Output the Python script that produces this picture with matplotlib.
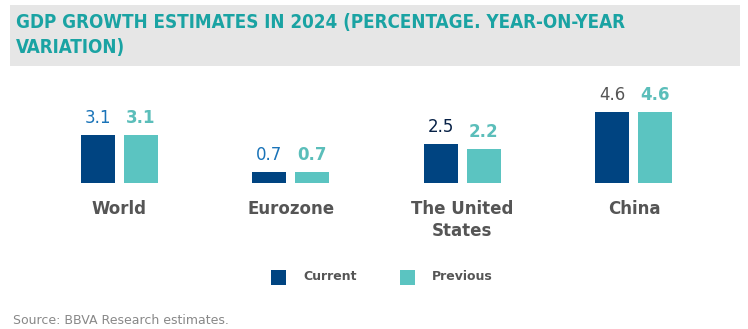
import matplotlib
matplotlib.use('Agg')
import matplotlib.pyplot as plt
from matplotlib.patches import Rectangle
import numpy as np

# data
regions = ['World', 'Eurozone', 'The United\nStates', 'China']
current = [3.1, 0.7, 2.5, 4.6]
previous = [3.1, 0.7, 2.2, 4.6]
current_label_colors = ['#1973b8', '#1973b8', '#072146', '#555555']
previous_label_colors = ['#5bbeba', '#5bbeba', '#5bbeba', '#5bbeba']

NAVY = '#004481'
TEAL = '#5bc4c1'
GREY = '#555555'
W, H = 748, 329

fig = plt.figure(figsize=(W / 100, H / 100), dpi=100)


def fx(x):
    return x / W


def fy(y):
    return 1 - y / H


# title box
fig.add_artist(Rectangle((fx(10), fy(66)), fx(730), 61 / H, transform=fig.transFigure,
                         facecolor='#e6e6e6', edgecolor='none', zorder=0))
fig.text(fx(16), fy(13), 'GDP GROWTH ESTIMATES IN 2024 (PERCENTAGE. YEAR-ON-YEAR\nVARIATION)',
         ha='left', va='top', fontsize=13.5, fontweight='bold', color='#1aa3a3',
         family=['DejaVu Sans Condensed', 'DejaVu Sans'], stretch='condensed', linespacing=1.38)

# bars
ax = fig.add_axes([fx(33.25), 1 - 183 / H, 686.5 / W, 77.5 / H])
x = np.arange(len(regions))
bw = 0.198
off = 0.125
ax.bar(x - off, current, bw, color=NAVY)
ax.bar(x + off, previous, bw, color=TEAL)
ax.set_xlim(-0.5, 3.5)
ax.set_ylim(0, 5)
ax.axis('off')

for i in range(len(regions)):
    ax.annotate('%.1f' % current[i], (x[i] - off, current[i]), xytext=(0, 8),
                textcoords='offset pixels', ha='center', va='bottom', fontsize=12,
                color=current_label_colors[i])
    ax.annotate('%.1f' % previous[i], (x[i] + off, previous[i]), xytext=(0, 8),
                textcoords='offset pixels', ha='center', va='bottom', fontsize=12,
                color=previous_label_colors[i], fontweight='bold')
    ax.annotate(regions[i], (x[i], 0), xytext=(0, -17), textcoords='offset pixels',
                ha='center', va='top', fontsize=12, fontweight='bold', color=GREY,
                linespacing=1.25)

# legend
for sx, tx, col, lab in [(271, 303, NAVY, 'Current'), (400, 432, TEAL, 'Previous')]:
    fig.add_artist(Rectangle((fx(sx), fy(285)), 15 / W, 15 / H, transform=fig.transFigure,
                             facecolor=col, edgecolor='none'))
    fig.text(fx(tx), fy(277), lab, ha='left', va='center', fontsize=9,
             fontweight='bold', color=GREY)

# source
fig.text(fx(13), fy(320), 'Source: BBVA Research estimates.', ha='left', va='center',
         fontsize=9, color='#888888')

fig.savefig('out.png', dpi=100)
